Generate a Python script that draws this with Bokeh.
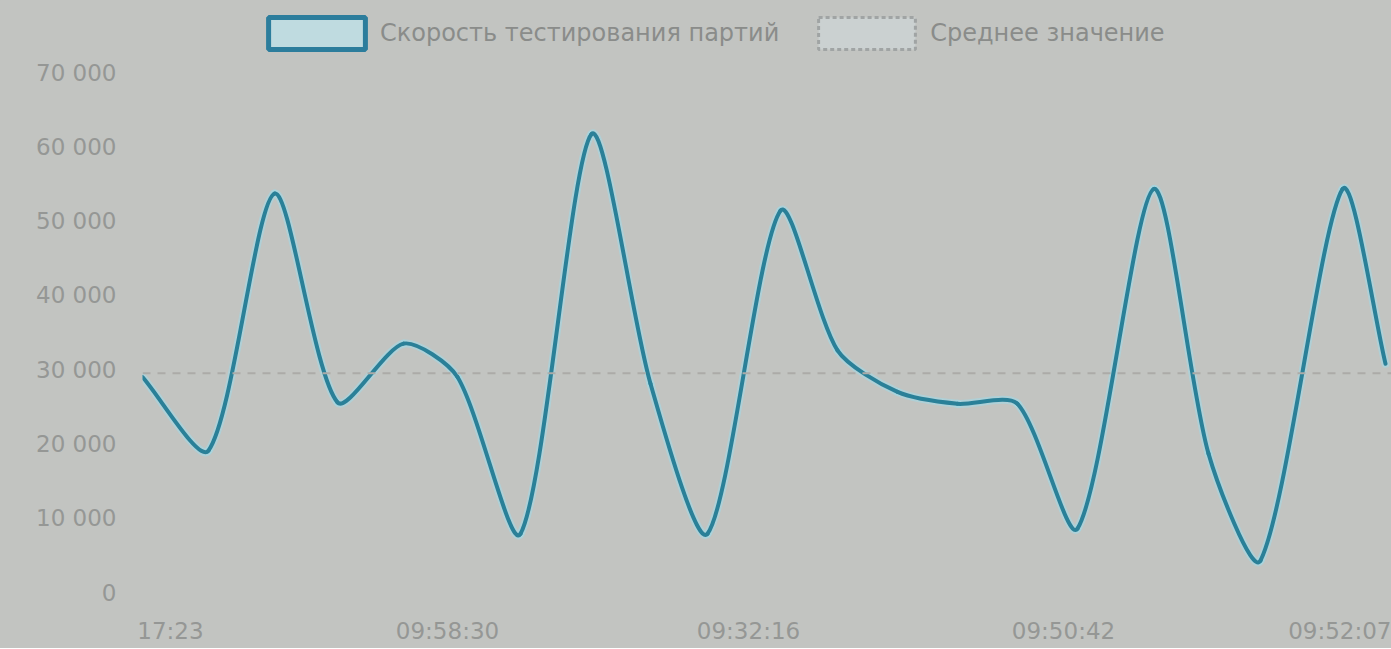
import numpy as np
from bokeh.plotting import figure
from bokeh.models import (Range1d, FixedTicker, Legend, LegendItem, Span, ColumnDataSource)
from bokeh.embed import file_html
from bokeh.resources import INLINE

# ---------------- data ----------------
series_name = "Скорость тестирования партий"
avg_name = "Среднее значение"

# elapsed time of each measurement, seconds
t_sec = [0, 66, 132, 195, 261, 315, 378, 449, 508, 565, 638, 695, 755,
         815, 875, 935, 1011, 1066, 1118, 1200, 1243]
# batch testing speed
speed = [29000, 19100, 53700, 25600, 33500, 29000, 7900, 61700, 28100, 7900,
         51400, 32600, 27000, 25400, 25400, 8600, 54300, 18700, 4300, 54300, 30800]
avg_value = 29500

y_ticks = [0, 10000, 20000, 30000, 40000, 50000, 60000, 70000]
y_tick_labels = ["0", "10 000", "20 000", "30 000", "40 000", "50 000", "60 000", "70 000"]
x_tick_pos = [28, 305, 606, 921, 1228]
x_tick_labels = ["17:23", "09:58:30", "09:32:16", "09:50:42", "09:52:07"]

# ---------------- style ----------------
BG = "#c2c4c1"
TEXT = "#959795"
LEG_TEXT = "#8a8c8a"
LINE = "#2a8098"
HALO = "#a6d6e0"
FONT = "DejaVu Sans"

LEFT = 142
FRAME_W = 1249
FRAME_H = 592
y_end = 70000 * FRAME_H / 520.0   # headroom above 70 000 for the legend
x_end = float(FRAME_W)

p = figure(frame_width=FRAME_W, frame_height=FRAME_H, output_backend="svg",
           toolbar_location=None,
           x_range=Range1d(0, x_end), y_range=Range1d(0, y_end),
           min_border_left=LEFT, min_border_right=0, min_border_top=0,
           min_border_bottom=56)
p.background_fill_color = BG
p.border_fill_color = BG
p.styles = {"background-color": BG}
p.outline_line_color = None
p.xgrid.visible = False
p.ygrid.visible = False

# ---------------- smoothed curve (Chart.js-like tension) ----------------
tension = 0.26
X = np.array(t_sec, dtype=float)
sy = FRAME_H / y_end
Y = np.array(speed, dtype=float) * sy
n = len(X)
cpx_prev = np.zeros(n); cpy_prev = np.zeros(n)
cpx_next = np.zeros(n); cpy_next = np.zeros(n)
for i in range(n):
    x0, y0 = (X[i - 1], Y[i - 1]) if i > 0 else (X[i], Y[i])
    x1, y1 = X[i], Y[i]
    x2, y2 = (X[i + 1], Y[i + 1]) if i < n - 1 else (X[i], Y[i])
    d01 = np.hypot(x1 - x0, y1 - y0)
    d12 = np.hypot(x2 - x1, y2 - y1)
    tot = d01 + d12
    s01 = d01 / tot if tot else 0
    s12 = d12 / tot if tot else 0
    fa, fb = tension * s01, tension * s12
    cpx_prev[i] = x1 - fa * (x2 - x0); cpy_prev[i] = y1 - fa * (y2 - y0)
    cpx_next[i] = x1 + fb * (x2 - x0); cpy_next[i] = y1 + fb * (y2 - y0)

seg = ColumnDataSource(dict(
    x0=list(t_sec[:-1]), y0=list(speed[:-1]),
    x1=list(t_sec[1:]), y1=list(speed[1:]),
    cx0=list(cpx_next[:-1]), cy0=list(np.clip(cpy_next[:-1] / sy, 0, y_end)),
    cx1=list(cpx_prev[1:]), cy1=list(np.clip(cpy_prev[1:] / sy, 0, y_end)),
))

# average dashed line
avg_span = Span(location=avg_value, dimension="width", line_color="#acaba8",
                line_width=2, line_dash="8 7")
p.add_layout(avg_span)

p.bezier(x0="x0", y0="y0", x1="x1", y1="y1", cx0="cx0", cy0="cy0",
         cx1="cx1", cy1="cy1", source=seg, line_color=HALO, line_width=8,
         line_alpha=0.7, line_cap="round")
p.bezier(x0="x0", y0="y0", x1="x1", y1="y1", cx0="cx0", cy0="cy0",
         cx1="cx1", cy1="cy1", source=seg, line_color=LINE, line_width=4,
         line_cap="round")

# legend proxies (box-style legend swatches, nothing drawn in the plot)
nan_row = dict(left=[np.nan], right=[np.nan], top=[np.nan], bottom=[np.nan])
r_series = p.quad(source=ColumnDataSource(dict(nan_row)), left="left", right="right",
                  top="top", bottom="bottom", fill_color="#bfdbe0",
                  line_color="#2c7d9c", line_width=5)
r_avg = p.quad(source=ColumnDataSource(dict(nan_row)), left="left", right="right",
               top="top", bottom="bottom", fill_color="#cbd1d1",
               line_color="#a0a4a4", line_width=3, line_dash="4 3")

legend = Legend(items=[LegendItem(label=series_name, renderers=[r_series]),
                       LegendItem(label=avg_name, renderers=[r_avg])],
                orientation="horizontal", location=(114, 539),
                glyph_width=121, glyph_height=40, label_standoff=3, spacing=27,
                padding=0, margin=0, border_line_color=None,
                background_fill_alpha=0, label_text_font_size="24px",
                label_text_color=LEG_TEXT, label_text_font=FONT)
p.add_layout(legend)

# axes
p.yaxis.ticker = FixedTicker(ticks=y_ticks)
p.yaxis.major_label_overrides = {float(v): s for v, s in zip(y_ticks, y_tick_labels)}
p.xaxis.ticker = FixedTicker(ticks=x_tick_pos)
p.xaxis.major_label_overrides = {float(v): s for v, s in zip(x_tick_pos, x_tick_labels)}
for ax in (p.xaxis[0], p.yaxis[0]):
    ax.axis_line_color = None
    ax.major_tick_line_color = None
    ax.minor_tick_line_color = None
    ax.major_tick_out = 0
    ax.major_tick_in = 0
    ax.major_label_text_color = TEXT
    ax.major_label_text_font = FONT
    ax.major_label_text_font_size = "23px"
p.yaxis.major_label_standoff = 26
p.xaxis.major_label_standoff = 25

open("out.html", "w").write(file_html(p, INLINE))
